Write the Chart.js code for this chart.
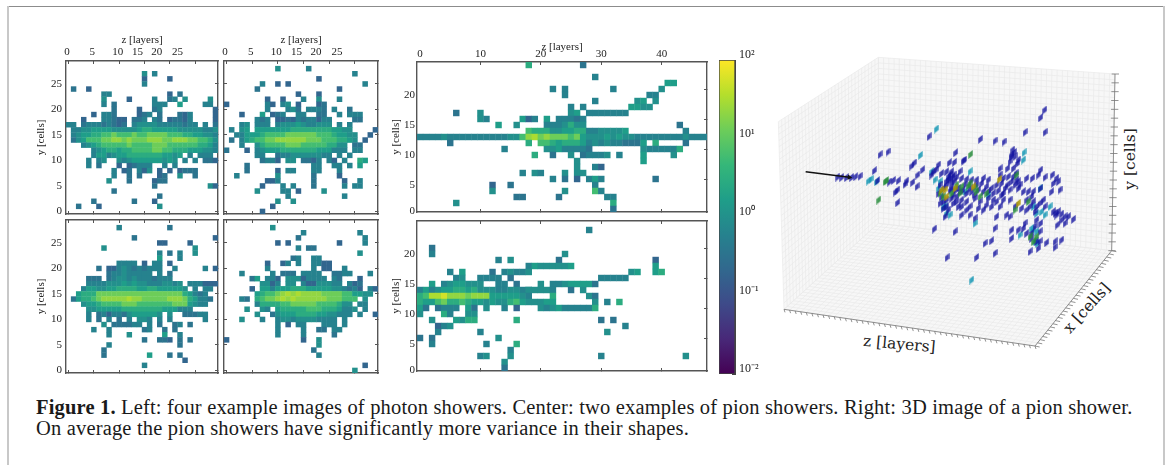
<!DOCTYPE html>
<html>
<head>
<meta charset="utf-8">
<script src="https://cdn.jsdelivr.net/npm/chart.js@4"></script>
<style>
html, body { margin: 0; background: #fff; }
#fig { position: relative; width: 1167px; height: 465px; overflow: hidden; }
#fig canvas { position: absolute; }
.rule { position: absolute; }
.lab3d { position: absolute; font: 15.5px "DejaVu Serif", serif; color: #222; white-space: nowrap; transform-origin: center; }
#caption { position: absolute; left: 36px; top: 397px; font: 20.5px/21px "Liberation Serif", serif; letter-spacing: 0.17px; color: #1a1a1a; white-space: nowrap; }
</style>
</head>
<body>
<div id="fig">
  <div class="rule" style="left:7px;top:6px;width:1157px;height:1px;background:#8c8c8c"></div>
  <div class="rule" style="left:7px;top:6px;width:2px;height:459px;background:#c8c8c8"></div>
  <div class="rule" style="left:1163px;top:6px;width:2px;height:459px;background:#c8c8c8"></div>
  <div class="lab3d" style="left:863px;top:335px;transform:rotate(5deg)">z [layers]</div>
  <div class="lab3d" style="left:1056px;top:299px;transform:rotate(-48deg)">x [cells]</div>
  <div class="lab3d" style="left:1099px;top:150px;transform:rotate(-90deg)">y [cells]</div>
  <div id="caption"><b>Figure 1.</b> Left: four example images of photon showers. Center: two examples of pion showers. Right: 3D image of a pion shower.<br>On average the pion showers have significantly more variance in their shapes.</div>
</div>
<script>
// cell value for each level char in the rows below
const levelValues = [0.1, 0.2, 0.35, 0.6, 1, 1.7, 3, 6, 13, 22, 32, 55];

// rows run top to bottom, "col:levels" = first column then one char per cell
const photon1 = ["", "",
  "15:4 17:3", "15:1 20:1", "15:3", "1:2 4:1", "7:33 20:1 22:2", "7:4 12:1 17:3 20:23 23:4 28:4",
  "7:3 9:2 17:33 19:3 22:5 27:33", "9:2 14:1 17:23 29:1", "5:1 7:332 14:12 16:3 18:2 22:213 29:1",
  "3:1 7:33211 13:223 17:32 20:12213 29:1", "0:33 3:23 5:3323212 13:344 16:44 18:3333 22:3233 27:3 29:2",
  "1:33445555444445665555544444334", "1:3 2:4556677877787788887776655443", "1:2 2:45 4:7778899898889998899988776 29:4",
  "3:34567777787777888777777665 29:3", "5:3456656677778877666555443", "5:3 6:55 8:3 9:4 10:55 12:6 13:6 14:6666 18:6 19:55 21:4 22:5 24:3 26:33 28:3",
  "4:3 6:3 7:4 10:4 11:345 14:55555 19:45 21:4 23:3 25:3 27:22 29:1", "4:3 6:2 10:1 12:1 13:2 14:3 15:33 19:3 21:3",
  "9:3 11:1 12:2 14:3 15:1 16:4 18:1 20:1 22:1222", "9:3 12:2 14:2 18:12 22:4 25:2", "8:4 12:2 17:1 18:22",
  "17:2 28:4 29:1", "9:2", "18:2", "5:2 13:2 17:1", "2:2 6:1 18:4", ""];

const photon2 = ["",
  "10:4 16:3", "25:3", "18:1", "7:3 10:1 12:1 27:3", "6:2 22:1", "14:1 18:1", "8:1 11:1 15:3 18:4 22:3",
  "0:1 8:31 11:34 14:1 18:12", "8:3 12:34 14:2 16:333 19:2 21:3 24:2", "3:1 7:5 9:12 11:3 14:33 18:22 22:3 24:333",
  "6:323 10:1121 14:3 15:23 17:3 18:133 25:22", "3:34 6:333 10:34445433444 22:3 24:3",
  "1:3 3:45 6:5 7:555555666666665544 29:1", "2:33 4:55 6:5 7:6777788888877765544 28:1",
  "1:2 3:3 4:56 6:77 8:8 9:899999988877766 24:54 27:1", "3:3 6:4 7:677778887777766 22:44 25:22",
  "0:2 4:1 6:34 8:5556666666555 21:3 22:33 25:33", "6:33 10:2 11:33 13:44 15:444 18:433 22:3 24:3",
  "7:233 10:1 12:44 15:2 16:21 18:3 20:31 23:3 26:65", "4:2 17:33 21:33 24:3 26:5", "4:2 10:1 12:33 17:33 22:3",
  "2:3 10:4 17:2 22:1", "8:113 17:2 23:1 26:3", "7:1 11:3 13:3 17:2 23:3 25:33", "6:4 11:33 14:1 19:4", "12:3 23:3",
  "10:4 13:4", "9:1", "7:1"];

const photon3 = ["",
  "10:3 20:2", "", "13:2 29:1", "18:11 24:1", "7:4 25:4", "18:3 20:2 22:3 25:4", "18:5 22:3",
  "10:3333 15:1 17:33 20:1", "6:2 8:11 10:3 11:4 12:32 14:3 15:2 16:333 21:3 27:3 29:1", "8:2 9:33 11:4 12:33 14:33 16:3 18:3 20:2",
  "4:222 8:2 9:344 12:34 14:33 16:3 17:2 18:333", "4:333 7:34445454433344 21:34 24:333 27:111",
  "3:35 5:54 7:455666655665555 22:54 25:3 27:33", "2:5 3:666 6:88888888888888888 23:65 25:32 27:3",
  "1:2 2:56 4:67 6:899999A99888889998 24:65 26:33 28:2", "3:455 6:677778887777777888 24:54 26:33", "4:44 6:5555566666666555 22:33 24:3",
  "4:3 6:2 7:3 8:1 9:3 10:3 11:2 12:4 13:5 14:5555 18:4 20:4 23:222 26:3 27:3", "4:3 6:2 8:3 10:2 12:3 14:44 16:3 18:3 20:3 27:3",
  "7:4 9:2 10:222 13:33 16:3 18:2 21:2 22:3 24:2", "5:3 8:3 15:2 16:3 19:2 21:2", "8:3 12:4 19:5 22:3", "15:2 18:22 20:1 22:2 24:2",
  "8:3 22:2", "7:2", "7:2 16:5 20:2 22:2", "23:1", "15:3", ""];

const photon4 = ["",
  "9:4", "15:3 26:3", "14:2 27:3", "10:1 12:1 22:1 27:3", "14:3 16:22", "26:4", "13:23 17:33",
  "8:1 11:13 14:3 17:33 19:11", "8:3 17:3 19:11 23:3", "3:3 9:3 11:222 15:3333 21:22 23:33 28:3",
  "5:25 8:33 10:1 12:4441 16:333 19:3 21:32 26:1", "7:44 9:1 10:3 12:44 15:3 16:11 18:444 21:33 24:3 25:12",
  "5:1 7:55 9:3 10:5 11:55666 16:5 17:555 20:5 21:44 23:3 24:23 26:1 28:31", "6:567789A9A9999888877 25:55 27:44",
  "3:32 6:67889A9A999999888777 27:4", "6:3 7:66667788888777766 23:44 26:3 27:3", "4:4 7:43 10:5666667776665 23:33 25:4 27:3",
  "6:4 9:2 10:4 11:5556666 18:55 20:44 22:33 24:3 26:3 29:1", "3:4 7:3 10:3 11:44 13:3 14:44 16:44 18:3 19:33 21:3 23:3",
  "10:3 12:1 14:33 19:333 23:3", "10:3 15:3 18:22 21:33", "10:3 15:3 21:2", "0:1 15:1 18:4", "18:4", "17:2", "18:3", "", "27:1", "25:4"];

const pion1 = ["18:6 27:2", "", "29:3", "41:55", "22:3 24:3 32:3 40:4", "24:3 38:33", "29:3 36:45 39:4", "25:3 27:3 35:5544",
  "6:2 10:4 25:45 28:3333333", "10:43 17:513 21:5 23:33323", "13:5 16:4 21:3334644 43:2", "18:7666445566 28:3344445 44:3",
  "0:3333 4:4 5:3333333333 15:44 17:79A898887 26:8 27:5 28:4445454 35:43333333343 46:33",
  "5:2 18:6 20:7765666 27:5 28:34343 33:3 34:222 37:5 39:6 44:2", "14:3 21:4453333 28:2 37:4 38:33333 43:6",
  "19:6 22:2 25:4 27:2333 31:4 33:3 37:5 42:4", "26:4 37:5", "26:4 29:31", "17:3 19:43 24:4 26:44", "22:3 24:2 26:1 28:353 39:2",
  "12:1 15:2 29:3", "12:4 24:4 29:7 30:3", "16:22 23:2 31:33", "6:4 32:6", "32:2"];

const pion2 = ["", "28:3", "", "", "2:2", "2:3 24:4", "13:3 15:4 23:2 39:1", "18:3 19:5 20:4444 24:45 39:5",
  "5:3 7:5 12:2 14:34334 35:45 39:56", "6:34 10:3333 15:2 30:33333", "2:5 4:3455444 13:33 16:2 20:4 22:3345555 29:2",
  "0:3534556656444334433 18:44443 25:2 27:4", "0:67AAB999899955555 17:43 22:6 28:4 29:2", "0:65578667655 11:45 13:44 15:675 18:444 21:55 29:4 31:3 33:6",
  "0:52 3:2333 8:5 9:2 11:4 14:3 16:1 20:4345 24:33333 29:6", "0:4 4:63 8:44", "2:4 6:5466 16:6 30:2 32:2", "3:1 4:34 34:3", "3:3 10:3 31:4",
  "0:2 2:2 13:4", "2:3 11:3 16:6", "15:3", "10:34 15:4 30:3 44:4", "14:4", "14:2"];

const pionRowsY = { yLabelPos: [-0.35, 4, 9, 14, 19], yLabels: ['0', '5', '10', '15', '20'] };
const photonRowsY = { yLabelPos: [0, 5, 10, 15, 20, 25], yLabels: ['0', '5', '10', '15', '20', '25'] };
const photonZ = { xLabelPos: [-0.3, 4.7, 9.7, 13.6, 17.4, 21.5], xLabels: ['0', '5', '10', '15', '20', '25'] };
const pionZ = { xLabelPos: [0, 10, 20, 30, 40], xLabels: ['0', '10', '20', '30', '40'] };

const colorbarTicks = [0.01, 0.1, 1, 10, 100];
const colorbarLabels = ['10\u207B\u00B2', '10\u207B\u00B9', '10\u2070', '10\u00B9', '10\u00B2'];

// 3D view: shower cells, per colour group
const cellsBlue = [[203,351],[215,352],[229,353],[245,352],[257,350],[270,349],[313,332],[330,284],[354,276],[323,362],[358,366],[370,361],[385,362],[405,373],[410,363],[428,367],[443,345],[458,329],[441,380],[376,396],[383,390],[383,428],[425,318],[433,309],[477,230],
  [505,315],[538,308],[553,307],[579,303],[584,300],[557,278],[631,238],[675,243],[702,246],[765,217],[825,217],[812,173],[824,150],
  [733,277],[725,290],[720,305],[713,325],[745,300],[743,310],[730,325],[690,326],[485,345],[490,335],[498,330],[515,340],[530,335],[545,335],[552,345],[570,335],
  [535,350],[540,360],[545,370],[530,375],[545,385],[555,390],[570,395],[585,375],[600,385],[620,375],[635,370],[650,380],[665,385],[680,375],[695,370],[705,385],[720,390],[735,375],[750,375],[770,355],[787,355],[805,345],[812,330],[825,352],[847,345],[860,355],[865,365],[850,370],[812,385],[845,395],[870,390],
  [505,400],[515,410],[530,420],[545,415],[560,410],[575,420],[590,425],[600,440],[615,415],[630,425],[650,435],[665,440],[680,425],[700,420],[720,420],[735,440],[755,445],[770,420],[785,410],[790,425],[800,440],
  [525,470],[535,450],[520,445],[565,440],[575,465],[600,465],[615,475],[680,470],[710,465],[765,490],[760,505],[745,510],[675,505],[725,510],[493,507],[555,515],
  [855,460],[865,455],[875,462],[885,470],[885,490],[910,478],[862,495],[800,480],[812,490],[785,520],[810,545],[830,548],[855,545],[875,540],[780,575],[805,565],[855,562],[665,542],[645,550],[725,535],[531,593],[620,592],[675,580],
  [540,345],[548,352],[535,358],[552,365],[528,365],[560,352],[520,385],[510,375],[540,392],[550,405],[565,385],[578,392],[590,400],[605,395],[612,405],[625,390],[640,395],[655,395],[670,400],[685,392],[700,400],[712,375],[725,365],[740,360],[715,350],[700,355],[690,345],[730,350],[745,385],[760,395],[775,395],[790,395],[780,440],[770,450],[795,455],[810,430],[820,420],[520,425],[530,440],[510,430],[550,430],[560,425],[575,440],[590,450],[625,445],[640,450],[655,415],[670,420],[690,440],[695,405],[655,360],[640,355],[620,360],[605,360],[590,358],[575,355],[770,520],[785,535],[795,500],[810,515],[800,545],[825,440],[860,465],[875,480],[895,470],[850,455],[720,470],[725,285],[735,290],[728,270],[738,340],[745,365]];
const cellsTeal = [[295,363],[303,358],[320,365],[451,286],[499,207],[485,335],[510,365],[600,335],[762,278],[760,300],[525,440],[530,460],[615,490],[750,525],[790,510],[800,515],[803,550],[840,440],[815,455],[825,465],[785,505],[605,660],[810,385],[495,360],[505,385],[520,440],[540,465],[585,395],[655,405],[790,440],[800,460],[795,545]];
const cellsGreen = [[326,420],[345,365],[350,362],[602,283],[575,380],[560,375],[595,378],[620,395],[630,410],[740,345],[775,425],[800,530],[790,545],[545,400],[510,400],[520,410],[570,400],[600,370],[615,385],[650,400],[735,450],[780,530]];
const cellsOlive = [[515,390],[530,410],[525,390],[610,380],[688,358],[745,430],[555,385]];
const arrowTail = [107, 335];
const arrowHead = [238, 352];

// box corners in the projected picture
const wallLeft = [[42,748],[325,490],[325,-8],[25,185]];
const wallBack = [[325,490],[1025,572],[1035,42],[325,-8]];
const floorBox = [[42,748],[795,858],[1025,572],[325,490]];
const zDivisions = 45, xDivisions = 30, yDivisions = 30;

const viridis = [[68,1,84],[72,40,120],[62,74,137],[49,104,142],[38,130,142],[31,158,137],[53,183,121],[109,205,89],[180,222,44],[253,231,37]];

function colorAt(t) {
  t = Math.min(1, Math.max(0, t)) * (viridis.length - 1);
  const i = Math.min(viridis.length - 2, Math.floor(t)), f = t - i;
  const c = viridis[i].map((v, k) => Math.round(v + (viridis[i + 1][k] - v) * f));
  return 'rgb(' + c.join(',') + ')';
}
function valueColor(v) {
  return colorAt((Math.log10(v) + 2) / 4);
}

function decodeRows(rows) {
  const cells = [];
  rows.forEach((row, i) => {
    const y = rows.length - 1 - i;
    row.split(' ').filter(Boolean).forEach(run => {
      const [start, levels] = run.split(':');
      [...levels].forEach((ch, k) => {
        cells.push({ x: +start + k, y: y, v: levelValues[parseInt(ch, 36)] });
      });
    });
  });
  return cells;
}

const axisColor = '#555';
const tickFont = { family: 'Liberation Serif', size: 11 };
const titleFont = { family: 'Liberation Serif', size: 11 };

function addCanvas(left, top, w, h) {
  const c = document.createElement('canvas');
  c.width = w; c.height = h;
  c.style.left = left + 'px'; c.style.top = top + 'px';
  c.style.width = w + 'px'; c.style.height = h + 'px';
  document.getElementById('fig').appendChild(c);
  return c;
}

function fixedTicks(values) {
  return s => { s.ticks = values.map(v => ({ value: v })); };
}

// scale box of a fixed size, with no label overhang pushing the plot area in
function fixSize(s, size) {
  if (s.isHorizontal()) s.height = size; else s.width = size;
  s.paddingLeft = s.paddingRight = s.paddingTop = s.paddingBottom = 0;
}

function frameAxis(axis, position, min, max, size, ticks) {
  return {
    type: 'linear', axis: axis, position: position, min: min, max: max,
    afterFit: s => fixSize(s, size),
    afterBuildTicks: fixedTicks(ticks),
    grid: { drawOnChartArea: false, color: axisColor, tickLength: -3, tickWidth: 1 },
    border: { color: axisColor, width: 1.4 },
    ticks: { display: false }
  };
}

function heatPanel(rows, frame, nx, ny, tickX, tickY, o) {
  const marginL = o.yLabels ? o.marginL : 4, marginT = o.xLabels ? o.marginT : 3;
  const l = frame[0], t = frame[1], r = frame[2], b = frame[3];
  const cv = addCanvas(l - marginL, t - marginT, r - l + marginL + 3, b - t + marginT + 3);
  const xr = [-0.5, nx - 0.5], yr = [-0.5, ny - 0.5];
  const scales = {
    xb: frameAxis('x', 'bottom', xr[0], xr[1], 3, tickX),
    yr: frameAxis('y', 'right', yr[0], yr[1], 3, tickY),
    xt: Object.assign(frameAxis('x', 'top', xr[0], xr[1], 0, tickX), { weight: 0 }),
    y: frameAxis('y', 'left', yr[0], yr[1], marginL, o.yLabels ? o.yLabelPos : tickY),
    x: frameAxis('x', 'top', xr[0], xr[1], marginT, [])
  };
  scales.x.weight = 1;
  scales.x.border = { display: false };
  scales.x.grid = { display: false, drawTicks: false };
  if (o.xLabels) {
    scales.x.afterBuildTicks = fixedTicks(o.xLabelPos);
    scales.x.ticks = { display: true, autoSkip: false, maxRotation: 0, padding: o.xPad, color: '#222', font: tickFont, callback: (v, i) => o.xLabels[i] };
    scales.x.title = { display: true, text: 'z [layers]', color: '#222', font: titleFont, padding: 0 };
  }
  if (o.yLabels) {
    scales.y.grid = { drawOnChartArea: false, color: axisColor, tickLength: 0, drawTicks: true };
    scales.y.ticks = { display: true, autoSkip: false, padding: o.yPad, color: '#222', font: tickFont, callback: (v, i) => o.yLabels[i] };
    scales.y.title = { display: true, text: 'y [cells]', color: '#222', font: titleFont, padding: 0 };
  }
  new Chart(cv, {
    type: 'scatter',
    data: { datasets: [{
      data: decodeRows(rows), xAxisID: 'x', yAxisID: 'y',
      pointStyle: 'rect', pointBorderWidth: 0,
      pointBackgroundColor: c => valueColor(c.raw.v),
      pointRadius: c => {
        const s = c.chart.scales.x;
        return (Math.abs(s.getPixelForValue(1) - s.getPixelForValue(0)) + 0.4) / Math.SQRT2;
      }
    }] },
    options: {
      responsive: false, animation: false, events: [],
      layout: { padding: 0, autoPadding: false },
      plugins: { legend: { display: false }, tooltip: { enabled: false } },
      scales: scales
    }
  });
}

const tick5 = [0, 5, 10, 15, 20, 25];
heatPanel(photon1, [66, 61, 218, 214], 30, 30, tick5, tick5, Object.assign({ marginL: 31, marginT: 27, xPad: 2, yPad: 4 }, photonRowsY, photonZ));
heatPanel(photon2, [224, 61, 378, 214], 30, 30, tick5, tick5, Object.assign({ marginT: 27, xPad: 2 }, photonZ));
heatPanel(photon3, [66, 220, 218, 373], 30, 30, tick5, tick5, Object.assign({ marginL: 31, yPad: 4 }, photonRowsY));
heatPanel(photon4, [224, 220, 378, 373], 30, 30, tick5, tick5, {});
const tickPionX = [10, 20, 30, 40], tickPionY = [5, 10, 15, 20];
heatPanel(pion1, [417, 62, 707, 212], 48, 25, tickPionX, tickPionY, Object.assign({ marginL: 27, marginT: 21, xPad: 1, yPad: 2 }, pionRowsY, pionZ));
heatPanel(pion2, [417, 221, 707, 371], 48, 25, tickPionX, tickPionY, Object.assign({ marginL: 27, yPad: 2 }, pionRowsY));

// colorbar
new Chart(addCanvas(717, 48, 60, 334), {
  type: 'bar',
  data: { labels: ['v'], datasets: [{
    data: [[0.01, 100]], categoryPercentage: 1, barPercentage: 1,
    borderColor: '#444', borderWidth: 1, borderSkipped: false,
    backgroundColor: c => {
      const a = c.chart.chartArea;
      if (!a) return '#21908c';
      const g = c.chart.ctx.createLinearGradient(0, a.bottom, 0, a.top);
      viridis.forEach((v, i) => g.addColorStop(i / (viridis.length - 1), 'rgb(' + v.join(',') + ')'));
      return g;
    }
  }] },
  options: {
    responsive: false, animation: false, events: [],
    layout: { padding: { top: 12, bottom: 8, left: 2 }, autoPadding: false },
    plugins: { legend: { display: false }, tooltip: { enabled: false } },
    scales: {
      x: { display: false },
      y: {
        type: 'logarithmic', position: 'right', min: 0.01, max: 100,
        afterFit: s => fixSize(s, 42),
        grid: { drawOnChartArea: false, color: '#444', tickLength: -3 },
        border: { color: '#444' },
        ticks: {
          autoSkip: false, padding: 7, labelOffset: -5, color: '#222', font: { family: 'Liberation Serif', size: 12 },
          callback: v => {
            const i = colorbarTicks.indexOf(v);
            return i < 0 ? '' : colorbarLabels[i];
          }
        }
      }
    }
  }
});

// 3D shower view
function lerp(a, b, t) { return [a[0] + (b[0] - a[0]) * t, a[1] + (b[1] - a[1]) * t]; }
function quadPoint(q, s, t) { return lerp(lerp(q[0], q[1], s), lerp(q[3], q[2], s), t); }
const gap = { x: NaN, y: NaN };
function pt(p) { return { x: p[0], y: p[1] }; }

function quadGrid(q, ns, nt) {
  const out = [];
  for (let i = 0; i <= ns; i++) out.push(pt(quadPoint(q, i / ns, 0)), pt(quadPoint(q, i / ns, 1)), gap);
  for (let j = 0; j <= nt; j++) out.push(pt(quadPoint(q, 0, j / nt)), pt(quadPoint(q, 1, j / nt)), gap);
  return out;
}
function edgeTicks(a, b, n, d0, d1) {
  const out = [pt(a), pt(b), gap];
  for (let i = 0; i <= n; i++) {
    const p = lerp(a, b, i / n);
    out.push({ x: p[0] + d0[0], y: p[1] + d0[1] }, { x: p[0] + d1[0], y: p[1] + d1[1] }, gap);
  }
  return out;
}
function sprite(color) {
  const s = document.createElement('canvas');
  s.width = 5; s.height = 9;
  const g = s.getContext('2d');
  g.fillStyle = color;
  g.beginPath();
  g.moveTo(0.3, 9); g.lineTo(0.3, 3.5); g.lineTo(4.7, 0); g.lineTo(4.7, 5.5);
  g.closePath();
  g.fill();
  return s;
}
function wallSet(q, ns, nt) {
  return [
    { data: q.concat([q[0]]).map(pt), showLine: true, fill: 'shape', backgroundColor: '#f7f7f7', borderWidth: 0, pointRadius: 0, order: 20 },
    { data: quadGrid(q, ns, nt), showLine: true, borderColor: '#e9e9e9', borderWidth: 0.7, pointRadius: 0, order: 19 }
  ];
}
function cellSet(list, color, order) {
  return { data: list.map(pt), showLine: false, pointStyle: sprite(color), pointRadius: 4, order: order };
}

new Chart(addCanvas(770, 50, 390, 320), {
  type: 'scatter',
  data: { datasets: [
    ...wallSet(wallLeft, xDivisions, yDivisions),
    ...wallSet(wallBack, zDivisions, yDivisions),
    ...wallSet(floorBox, zDivisions, xDivisions),
    { data: edgeTicks(floorBox[0], floorBox[1], zDivisions, [0, 0], [3, 9]), showLine: true, borderColor: '#777', borderWidth: 0.8, pointRadius: 0, order: 15 },
    { data: edgeTicks(floorBox[1], floorBox[2], xDivisions, [0, 0], [14, 3]), showLine: true, borderColor: '#777', borderWidth: 0.8, pointRadius: 0, order: 15 },
    { data: edgeTicks(wallBack[1], wallBack[2], yDivisions / 1.5, [-10, 0], [12, 0]), showLine: true, borderColor: '#777', borderWidth: 0.8, pointRadius: 0, order: 15 },
    cellSet(cellsTeal, 'rgba(20,150,180,.85)', 6),
    cellSet(cellsBlue, 'rgba(20,20,160,.8)', 5),
    cellSet(cellsGreen, 'rgba(40,140,60,.85)', 4),
    cellSet(cellsOlive, 'rgba(170,150,10,.9)', 3),
    { data: [pt(arrowTail), pt(arrowHead)], showLine: true, borderColor: '#111', borderWidth: 1.5,
      pointRadius: [0, 3], pointStyle: 'triangle', pointRotation: 97, pointBackgroundColor: '#111', pointBorderWidth: 0, order: 1 }
  ] },
  options: {
    responsive: false, animation: false, events: [],
    layout: { padding: 0, autoPadding: false },
    plugins: { legend: { display: false }, tooltip: { enabled: false } },
    scales: {
      x: { type: 'linear', display: false, min: 0, max: 1170 },
      y: { type: 'linear', display: false, min: -30, max: 930, reverse: true }
    }
  }
});
</script>
</body>
</html>
